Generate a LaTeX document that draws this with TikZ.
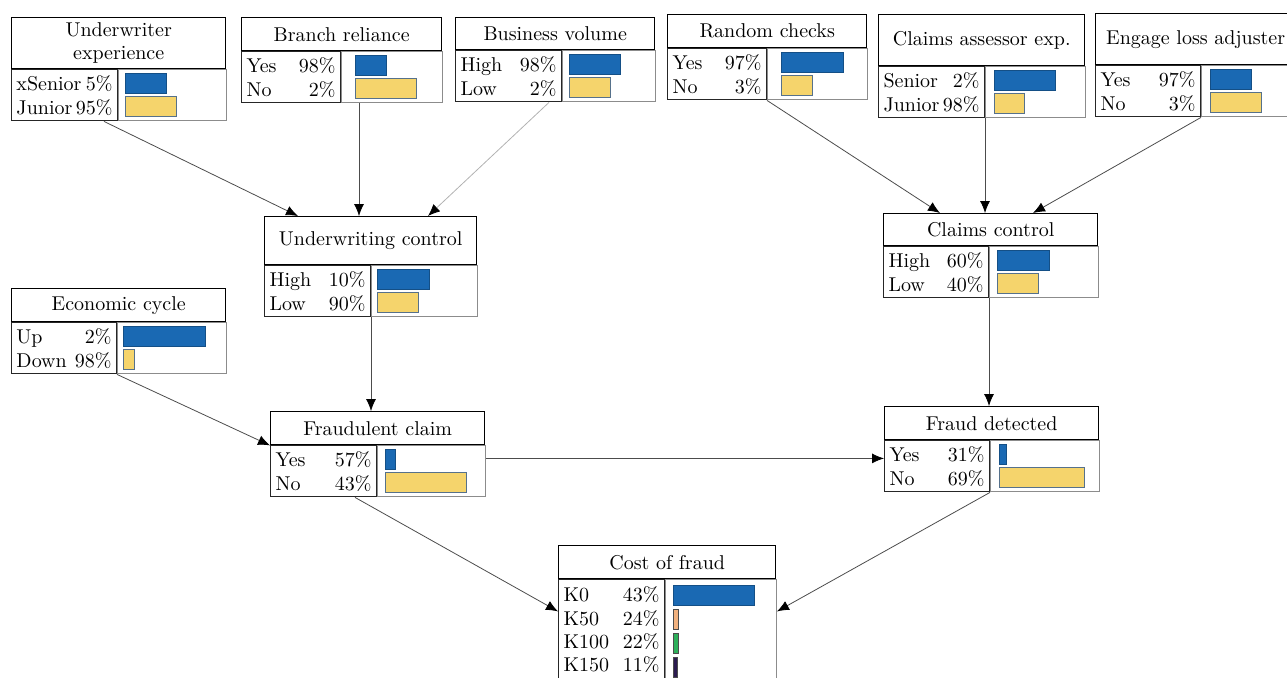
\documentclass[tikz,border=0pt]{standalone}
\usetikzlibrary{positioning,calc,arrows.meta}

\definecolor{barblue}{HTML}{1A69B3}
\definecolor{baryellow}{HTML}{F5D46C}
\definecolor{barpeach}{HTML}{F2B27F}
\definecolor{bargreen}{HTML}{2DB05A}
\definecolor{barpurple}{HTML}{2B1B4F}

\tikzset{
  cpt/.style={draw=black, line width=0.7pt, align=center, inner sep=1pt,
    minimum height=16.5pt, anchor=north west, text=black,
    font=\fontsize{10}{11.7}\selectfont},
  states/.style={draw=black!85, line width=0.5pt, align=left, inner xsep=2.5pt,
    inner ysep=1pt, minimum height=25.5pt, text=black,
    font=\fontsize{10}{11.7}\selectfont},
  barbox/.style={draw=black!45, line width=0.5pt, minimum height=25.5pt, inner sep=0pt},
  hibar/.style={fill=barblue, draw=barblue!75!black, line width=0.3pt},
  lobar/.style={fill=baryellow, draw=black!50!barblue!70, line width=0.4pt},
  dep/.style={draw=black!70, line width=0.4pt, -{Latex[length=6pt,width=5pt,color=black]}},
}
\newcommand{\strow}[2]{\makebox[\hsize]{#1\hfill#2}}

\begin{document}
\begin{tikzpicture}[x=0.5pt,y=-0.5pt]
\clip (0,0) rectangle (1287,677);

\node[cpt, minimum width=107pt, minimum height=25.5pt] (uexp) at (11,17) {Underwriter\\experience};
\node[states, text width=48pt, below right=0pt and 0pt of uexp.south west] (uexp-s) {\strow{xSenior}{5\%}\\\strow{Junior}{95\%}};
\node[barbox, minimum width=54pt, below right=0pt and 0pt of uexp-s.north east] (uexp-b) {};

\node[cpt, minimum width=100pt] (branch) at (241,17) {Branch reliance};
\node[states, text width=44.5pt, below right=0pt and 0pt of branch.south west] (branch-s) {\strow{Yes}{98\%}\\\strow{No}{2\%}};
\node[barbox, minimum width=50.5pt, below right=0pt and 0pt of branch-s.north east] (branch-b) {};

\node[cpt, minimum width=99.5pt, minimum height=16pt] (busvol) at (455,17) {Business volume};
\node[states, text width=48pt, below right=0pt and 0pt of busvol.south west] (busvol-s) {\strow{High}{98\%}\\\strow{Low}{2\%}};
\node[barbox, minimum width=46.5pt, below right=0pt and 0pt of busvol-s.north east] (busvol-b) {};

\node[cpt, minimum width=99.5pt] (random) at (667,14) {Random checks};
\node[states, text width=44.5pt, below right=0pt and 0pt of random.south west] (random-s) {\strow{Yes}{97\%}\\\strow{No}{3\%}};
\node[barbox, minimum width=50pt, below right=0pt and 0pt of random-s.north east] (random-b) {};

\node[cpt, minimum width=103pt, minimum height=25.5pt] (assessor) at (878,14) {Claims assessor exp.};
\node[states, text width=48pt, below right=0pt and 0pt of assessor.south west] (assessor-s) {\strow{Senior}{2\%}\\\strow{Junior}{98\%}};
\node[barbox, minimum width=50pt, below right=0pt and 0pt of assessor-s.north east] (assessor-b) {};

\node[cpt, minimum width=100pt, minimum height=25.5pt] (engage) at (1095,13) {Engage loss adjuster};
\node[states, text width=47.5pt, below right=0pt and 0pt of engage.south west] (engage-s) {\strow{Yes}{97\%}\\\strow{No}{3\%}};
\node[barbox, minimum width=47.5pt, below right=0pt and 0pt of engage-s.north east] (engage-b) {};

\node[cpt, minimum width=106pt, minimum height=24pt] (uwc) at (264,216) {Underwriting control};
\node[states, text width=48pt, below right=0pt and 0pt of uwc.south west] (uwc-s) {\strow{High}{10\%}\\\strow{Low}{90\%}};
\node[barbox, minimum width=53pt, below right=0pt and 0pt of uwc-s.north east] (uwc-b) {};

\node[cpt, minimum width=107pt] (econ) at (11,288) {Economic cycle};
\node[states, text width=47.5pt, below right=0pt and 0pt of econ.south west] (econ-s) {\strow{Up}{2\%}\\\strow{Down}{98\%}};
\node[barbox, minimum width=54.5pt, below right=0pt and 0pt of econ-s.north east] (econ-b) {};

\node[cpt, minimum width=107pt, minimum height=16pt] (cc) at (883,213) {Claims control};
\node[states, text width=47.5pt, below right=0pt and 0pt of cc.south west] (cc-s) {\strow{High}{60\%}\\\strow{Low}{40\%}};
\node[barbox, minimum width=54.5pt, below right=0pt and 0pt of cc-s.north east] (cc-b) {};

\node[cpt, minimum width=107pt] (fc) at (270,411) {Fraudulent claim};
\node[states, text width=48pt, below right=0pt and 0pt of fc.south west] (fc-s) {\strow{Yes}{57\%}\\\strow{No}{43\%}};
\node[barbox, minimum width=54pt, below right=0pt and 0pt of fc-s.north east] (fc-b) {};

\node[cpt, minimum width=107pt] (fd) at (884,406) {Fraud detected};
\node[states, text width=47.5pt, below right=0pt and 0pt of fd.south west] (fd-s) {\strow{Yes}{31\%}\\\strow{No}{69\%}};
\node[barbox, minimum width=54.5pt, below right=0pt and 0pt of fd-s.north east] (fd-b) {};

\node[cpt, minimum width=108.5pt] (cost) at (558,545) {Cost of fraud};
\node[states, text width=48pt, minimum height=50pt, below right=0pt and 0pt of cost.south west] (cost-s)
  {\strow{K0}{43\%}\\\strow{K50}{24\%}\\\strow{K100}{22\%}\\\strow{K150}{11\%}};
\node[barbox, minimum width=55.5pt, minimum height=50pt, below right=0pt and 0pt of cost-s.north east] (cost-b) {};

\foreach \n/\dx/\a/\b in {uexp/7/41/51, branch/14/31/61, busvol/7/51/41, random/14/62/31,
    assessor/9/61/30, engage/9/41/51, uwc/6/52/41, econ/6/82/11, cc/8/52/41, fc/8/10/81, fd/9/7/85} {
  \draw[hibar] ($(\n-b.north west)+(\dx,4)$) rectangle ++(\a,20);
  \draw[lobar] ($(\n-b.north west)+(\dx,27)$) rectangle ++(\b,20);
}
\draw[hibar] ($(cost-b.north west)+(8,6)$) rectangle ++(81,20);
\draw[fill=barpeach, draw=black!70, line width=0.3pt] ($(cost-b.north west)+(8,30)$) rectangle ++(5,20);
\draw[fill=bargreen, draw=black!70, line width=0.3pt] ($(cost-b.north west)+(8,54)$) rectangle ++(5,20);
\draw[fill=barpurple, draw=black!70, line width=0.3pt] ($(cost-b.north west)+(8,78)$) rectangle ++(4,20);

\path ($(uwc.north west)+(95,0)$) coordinate (uwc-in);
\draw[dep] ($(uexp-s.south east)+(-14,0)$) -- ($(uwc.north west)+(34,0)$);
\draw[dep] (uwc-in |- branch-b.south) -- (uwc-in);
\draw[dep, draw=black!30] ($(busvol-s.south east)+(-13,0)$) -- ($(uwc.north west)+(164,0)$);
\draw[dep] (random-s.south east) -- ($(cc.north west)+(57,0)$);
\draw[dep] (assessor-s.south east) -- (assessor-s.south east |- cc.north);
\draw[dep] (engage-s.south east) -- ($(cc.north west)+(150,0)$);
\draw[dep] (uwc-s.south east) -- (uwc-s.south east |- fc.north);
\draw[dep] (econ-s.south east) -- (fc.south west);
\draw[dep] ($(fc-b.north east)+(0,13)$) -- ($(fd-s.north west)+(0,18)$);
\draw[dep] (cc-s.south east) -- (cc-s.south east |- fd.north);
\draw[dep] ($(fc-s.south east)+(-22,0)$) -- ($(cost-s.north west)+(0,32)$);
\draw[dep] (fd-s.south east) -- ($(cost-b.north east)+(0,32)$);
\end{tikzpicture}
\end{document}
